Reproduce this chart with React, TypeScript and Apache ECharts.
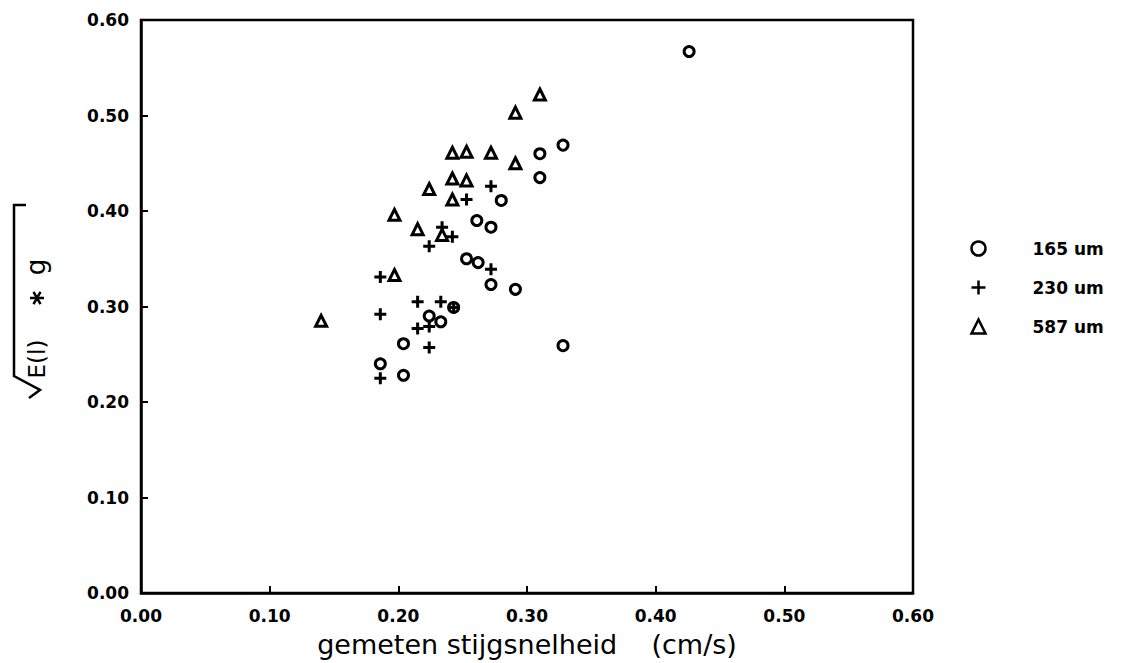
import React, { useEffect, useRef } from "react";
import * as echarts from "echarts";

// Data (x = gemeten stijgsnelheid in cm/s, y = sqrt(E(l)*g))
const series165: [number, number][] = [
  [0.426, 0.567], [0.328, 0.469], [0.31, 0.46], [0.31, 0.435], [0.28, 0.411],
  [0.261, 0.39], [0.272, 0.383], [0.253, 0.35], [0.262, 0.346], [0.272, 0.323],
  [0.291, 0.318], [0.328, 0.259], [0.243, 0.299], [0.233, 0.284], [0.224, 0.29],
  [0.204, 0.261], [0.186, 0.24], [0.204, 0.228],
];
const series230: [number, number][] = [
  [0.272, 0.426], [0.253, 0.412], [0.234, 0.383], [0.242, 0.373], [0.224, 0.363],
  [0.186, 0.331], [0.272, 0.339], [0.186, 0.292], [0.215, 0.305], [0.233, 0.305],
  [0.243, 0.299], [0.215, 0.277], [0.224, 0.279], [0.224, 0.257], [0.186, 0.225],
];
const series587: [number, number][] = [
  [0.31, 0.522], [0.291, 0.503], [0.242, 0.461], [0.253, 0.462], [0.272, 0.461],
  [0.291, 0.45], [0.242, 0.434], [0.253, 0.432], [0.224, 0.423], [0.242, 0.412],
  [0.197, 0.396], [0.215, 0.381], [0.234, 0.375], [0.197, 0.333], [0.14, 0.285],
];
const seriesNames = ["165 um", "230 um", "587 um"];
const axisMin = 0;
const axisMax = 0.6;
const axisInterval = 0.1;
const xAxisTitle = "gemeten stijgsnelheid    (cm/s)";

const FONT = "'DejaVu Sans', sans-serif";

export default function App() {
  const ref = useRef<HTMLDivElement>(null);
  useEffect(() => {
    if (!ref.current) return;
    const chart = echarts.init(ref.current, undefined, { renderer: "svg" });
    const labelStyle = {
      color: "#000",
      fontFamily: FONT,
      fontSize: 17,
      fontWeight: "bold" as const,
      formatter: (v: number) => v.toFixed(2),
    };
    const axisCommon = {
      type: "value" as const,
      min: axisMin,
      max: axisMax,
      interval: axisInterval,
      splitLine: { show: false },
      axisLine: { show: true, lineStyle: { color: "#000", width: 2.5 } },
      axisTick: { show: true, inside: true, length: 7, lineStyle: { color: "#000", width: 2 } },
    };
    const hollow = { color: "#fff", borderColor: "#000", borderWidth: 3, opacity: 1 };
    const cx = 37;
    const cy = 298;
    const r = 7;
    const star = [0, 60, 120].map((deg) => {
      const a = (deg * Math.PI) / 180;
      return {
        type: "line",
        shape: {
          x1: cx - r * Math.cos(a), y1: cy - r * Math.sin(a),
          x2: cx + r * Math.cos(a), y2: cy + r * Math.sin(a),
        },
        style: { stroke: "#000", lineWidth: 2.5 },
      };
    });
    chart.setOption({
      animation: false,
      backgroundColor: "#fff",
      grid: {
        left: 141, right: 216, top: 20, bottom: 65,
        show: true, borderColor: "#000", borderWidth: 2.5, backgroundColor: "transparent",
      },
      xAxis: {
        ...axisCommon,
        axisLabel: { ...labelStyle, margin: 14 },
        name: xAxisTitle,
        nameLocation: "middle",
        nameGap: 38,
        nameTextStyle: { color: "#000", fontFamily: FONT, fontSize: 27 },
      },
      yAxis: {
        ...axisCommon,
        axisLabel: { ...labelStyle, margin: 12 },
      },
      legend: {
        orient: "vertical",
        left: 964,
        top: 235,
        itemWidth: 14,
        itemHeight: 14,
        itemGap: 21,
        data: seriesNames,
        itemStyle: { borderWidth: 2.5, borderColor: "#000" },
        textStyle: { color: "#000", fontFamily: FONT, fontSize: 17, fontWeight: "bold", padding: [0, 0, 0, 42] },
      },
      graphic: [
        {
          type: "polyline",
          shape: { points: [[26, 205], [14, 205], [14, 376], [40, 390], [29, 398]] },
          style: { stroke: "#000", lineWidth: 2.5, fill: "none" },
        },
        {
          type: "text", x: 37, y: 359, rotation: Math.PI / 2,
          style: { text: "E(l)", fontFamily: FONT, fontSize: 23, fill: "#000", align: "center", verticalAlign: "middle" },
        },
        ...star,
        {
          type: "text", x: 36, y: 267, rotation: Math.PI / 2,
          style: { text: "g", fontFamily: FONT, fontSize: 26, fill: "#000", align: "center", verticalAlign: "middle" },
        },
      ],
      series: [
        { name: seriesNames[0], type: "scatter", data: series165, symbol: "circle", symbolSize: 10, itemStyle: hollow },
        {
          name: seriesNames[1], type: "scatter", data: series230,
          symbol: "path://M5,0V10M0,5H10", symbolSize: 12,
          itemStyle: { color: "none", borderColor: "#000", borderWidth: 3, opacity: 1 },
        },
        { name: seriesNames[2], type: "scatter", data: series587, symbol: "triangle", symbolSize: 11, itemStyle: hollow },
      ],
    });
    return () => chart.dispose();
  }, []);
  return (
    <div
      ref={ref}
      style={{ position: "fixed", left: 0, top: 0, width: 1129, height: 663, background: "#fff" }}
    />
  );
}
